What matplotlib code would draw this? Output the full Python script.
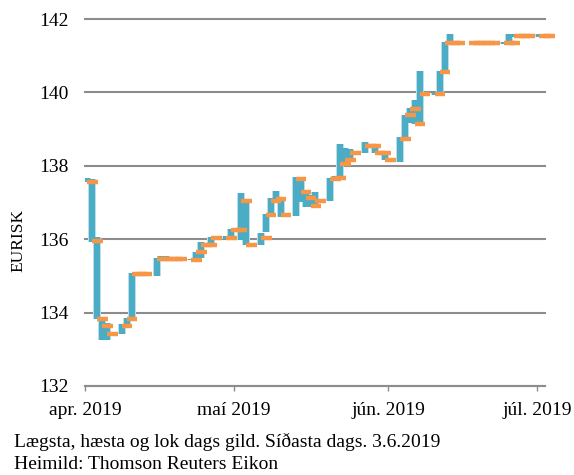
import pandas as pd
import matplotlib
matplotlib.use("Agg")
import matplotlib.pyplot as plt
import matplotlib.dates as mdates

# daily EURISK, weekdays 1.4.2019 - 2.7.2019
dates = pd.bdate_range("2019-04-01", "2019-07-02")

high = [137.66, 137.63, 136.07, 133.80, 133.72,
        133.69, 133.84, 135.09, 135.05, 135.05,
        135.48, 135.55, 135.55, 135.45, 135.45,
        135.47, 135.66, 135.93, 135.88, 136.07,
        136.09, 136.27, 136.28, 137.27, 137.07,
        136.18, 136.68, 137.11, 137.32, 137.11,
        137.70, 137.66, 137.34, 137.20, 137.28,
        137.68, 137.72, 138.59, 138.48, 138.45,
        138.64, 138.56, 138.48, 138.36, 138.30,
        138.78, 139.38, 139.57, 139.79, 140.58,
        139.98, 140.58, 141.38, 141.58, 141.34,
        141.34, 141.34, 141.34, 141.34, 141.34,
        141.38, 141.58, 141.58, 141.54, 141.54,
        141.58, 141.54]
low = [137.56, 135.93, 133.82, 133.25, 133.25,
       133.43, 133.60, 133.89, 135.05, 135.05,
       135.00, 135.45, 135.45, 135.45, 135.45,
       135.42, 135.45, 135.48, 135.80, 135.89,
       136.00, 136.00, 136.22, 135.98, 135.84,
       135.84, 136.20, 136.66, 137.02, 136.61,
       136.64, 137.02, 136.89, 136.89, 136.95,
       137.05, 137.60, 137.66, 138.11, 138.20,
       138.34, 138.50, 138.34, 138.30, 138.16,
       138.09, 138.70, 139.16, 139.13, 139.16,
       139.92, 139.95, 140.56, 141.34, 141.34,
       141.34, 141.34, 141.34, 141.34, 141.34,
       141.33, 141.34, 141.50, 141.54, 141.54,
       141.52, 141.54]
close = [137.56, 135.95, 133.82, 133.63, 133.43,
         133.63, 133.82, 135.05, 135.05, 135.05,
         135.45, 135.45, 135.45, 135.45, 135.45,
         135.44, 135.66, 135.83, 135.83, 136.02,
         136.02, 136.25, 136.25, 137.04, 135.84,
         136.02, 136.66, 137.05, 137.10, 136.66,
         137.64, 137.28, 137.11, 136.91, 137.05,
         137.64, 137.68, 138.05, 138.16, 138.34,
         138.54, 138.54, 138.34, 138.34, 138.16,
         138.72, 139.38, 139.54, 139.14, 139.95,
         139.95, 140.55, 141.34, 141.34, 141.34,
         141.34, 141.34, 141.34, 141.34, 141.34,
         141.34, 141.34, 141.54, 141.54, 141.54,
         141.54, 141.54]

month_ticks = ["2019-04-01", "2019-05-01", "2019-06-01", "2019-07-01"]
month_labels = ["apr. 2019", "maí 2019", "jún. 2019", "júl. 2019"]
y_ticks = [132, 134, 136, 138, 140, 142]

plt.rcParams['font.family'] = ['Liberation Serif', 'DejaVu Serif']
plt.rcParams['font.size'] = 14

W, H = 574, 475
fig = plt.figure(figsize=(W / 100, H / 100), dpi=100)
ax = fig.add_axes([85 / W, 1 - 386 / H, 460 / W, 367 / H])

x = mdates.date2num(dates) + 0.4

# high-low bars, with a light edge
ax.vlines(x, low, high, color='#b9dfea', linewidth=5.8, capstyle='butt', zorder=2)
ax.vlines(x, low, high, color='#4bacc6', linewidth=4.3, capstyle='butt', zorder=3)
# close ticks to the right of each bar
ax.hlines(close, x, x + 2.15, color='#f79646', linewidth=3.2, zorder=4, clip_on=False)

x0 = mdates.date2num(pd.Timestamp("2019-04-01"))
ax.set_xlim(x0, x0 + 460 / 4.967)
ax.set_ylim(132, 142)

ax.set_yticks(y_ticks)
ax.set_xticks(mdates.date2num(pd.to_datetime(month_ticks)))
ax.set_xticklabels(month_labels)

ax.grid(True, axis='y', color='#8c8c8c', linewidth=1.5)
for gl in ax.get_ygridlines():
    gl.set_clip_on(False)
ax.set_axisbelow(True)

for s in ['top', 'right', 'left']:
    ax.spines[s].set_visible(False)
ax.spines['bottom'].set_color('#8c8c8c')
ax.spines['bottom'].set_linewidth(1.5)

ax.tick_params(axis='y', length=0, pad=12, labelsize=14)
ax.tick_params(axis='x', direction='out', length=3.5, width=1, color='#8c8c8c', pad=8, labelsize=14)

fig.text(18 / W, 1 - 240 / H, 'EURISK', rotation=90, ha='center', va='center', fontsize=12.5)
fig.text(14 / W, 1 - 447 / H, 'Lægsta, hæsta og lok dags gild. Síðasta dags. 3.6.2019',
         ha='left', va='baseline', fontsize=14)
fig.text(14 / W, 1 - 469 / H, 'Heimild: Thomson Reuters Eikon',
         ha='left', va='baseline', fontsize=14)

fig.savefig('out.png', dpi=100)
